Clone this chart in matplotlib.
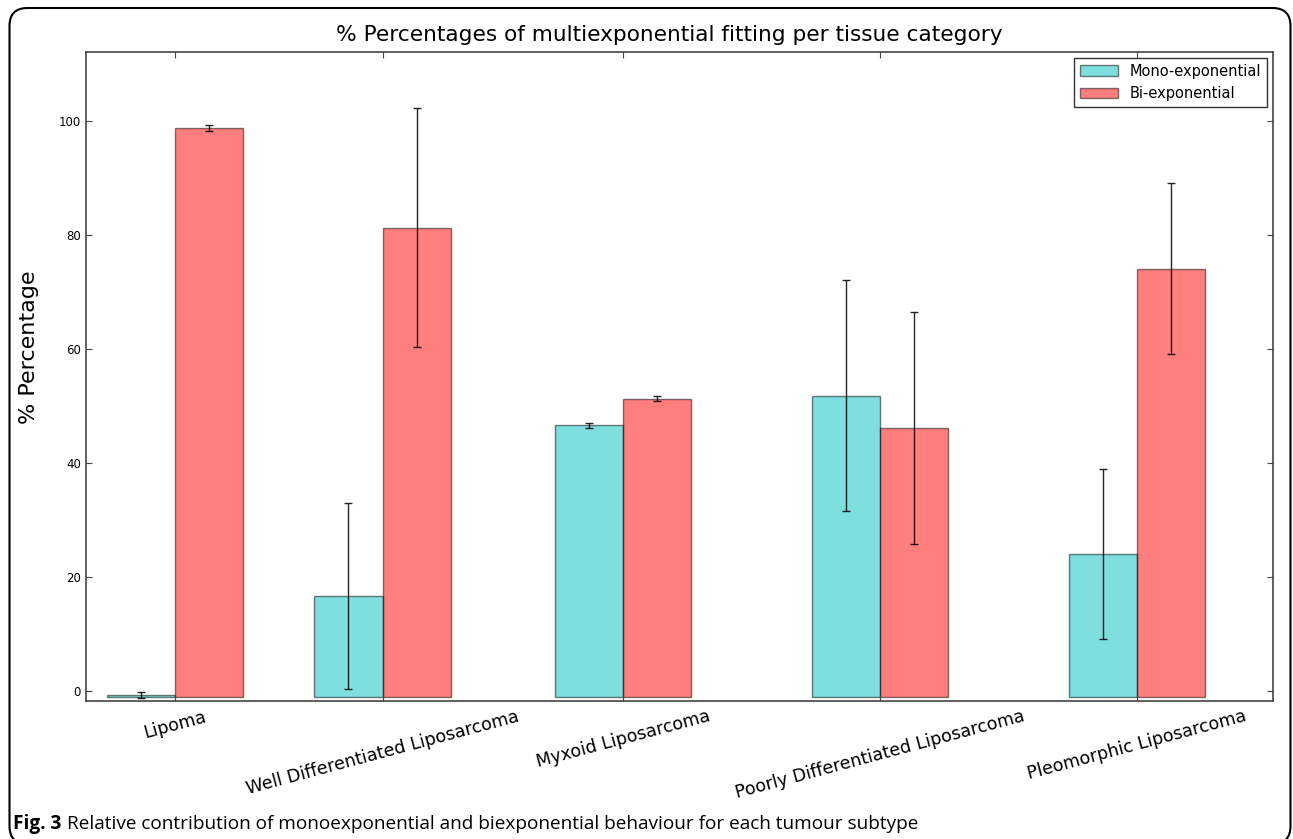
import matplotlib
matplotlib.use("Agg")
import matplotlib.pyplot as plt
from matplotlib.patches import FancyBboxPatch
import numpy as np

categories = ["Lipoma", "Well Differentiated Liposarcoma", "Myxoid Liposarcoma",
              "Poorly Differentiated Liposarcoma", "Pleomorphic Liposarcoma"]
mono_pct = [-0.7, 16.7, 46.6, 51.8, 24.0]
mono_err = [0.5, 16.3, 0.4, 20.3, 14.9]
bi_pct = [98.8, 81.3, 51.3, 46.1, 74.1]
bi_err = [0.5, 20.9, 0.4, 20.3, 15.0]

# group centres along the x axis and the common bar baseline
group_x = np.array([0.0, 1.064, 2.296, 3.614, 4.931])
width = 0.35
base = -1.0

plt.rcParams['font.family'] = ['DejaVu Sans']

fig = plt.figure(figsize=(12.93, 8.39), dpi=100)
ax = fig.add_axes([0.0665, 0.165, 0.918, 0.773])

mono = np.array(mono_pct)
bi = np.array(bi_pct)
ax.bar(group_x - width, mono - base, width, bottom=base, align='edge',
       color='c', alpha=0.5, edgecolor='k', linewidth=1, label='Mono-exponential')
ax.bar(group_x, bi - base, width, bottom=base, align='edge',
       color='r', alpha=0.5, edgecolor='k', linewidth=1, label='Bi-exponential')
ax.errorbar(group_x - width / 2, mono, yerr=mono_err, fmt='none',
            ecolor='k', elinewidth=1, capsize=3, alpha=0.85)
ax.errorbar(group_x + width / 2, bi, yerr=bi_err, fmt='none',
            ecolor='k', elinewidth=1, capsize=3, alpha=0.85)

ax.set_xlim(-0.456, 5.628)
ax.set_ylim(-1.7, 112.1)
ax.set_xticks(group_x)
ax.set_xticklabels(categories, rotation=15, ha='center', fontsize=12.6)
ax.set_yticks([0, 20, 40, 60, 80, 100])
ax.tick_params(axis='y', labelsize=8.5)
ax.tick_params(axis='x', pad=5)
ax.tick_params(direction='in', top=True, right=True, length=4, color='#444444')
for sp in ax.spines.values():
    sp.set_color('#444444')
    sp.set_linewidth(1.2)

ax.set_ylabel('% Percentage', fontsize=16)
ax.yaxis.set_label_coords(-0.040, 0.545)
ax.set_title('% Percentages of multiexponential fitting per tissue category',
             fontsize=15.6, pad=8, x=0.491)

leg = ax.legend(loc='upper right', fontsize=10.5, fancybox=False,
                framealpha=1, edgecolor='#333333', handlelength=2.6,
                borderaxespad=0.4)
leg.get_frame().set_linewidth(1)

# rounded frame around the whole figure
frame = FancyBboxPatch((0.095, -0.05), 12.81, 8.36,
                       boxstyle="round,pad=0,rounding_size=0.18",
                       transform=fig.dpi_scale_trans, fill=False,
                       edgecolor='k', linewidth=1.5)
fig.patches.append(frame)

cap_font = ['Liberation Sans Narrow', 'Open Sans', 'DejaVu Sans']
t = fig.text(0.010, 0.012, 'Fig. 3', fontsize=13.7, fontweight='bold',
             family=cap_font, va='baseline')
fig.canvas.draw()
bb = t.get_window_extent()
fig.text((bb.x1 + 6) / fig.bbox.width, 0.012,
         'Relative contribution of monoexponential and biexponential behaviour for each tumour subtype',
         fontsize=13.7, family=cap_font, va='baseline')

fig.savefig('out.png', dpi=100)
